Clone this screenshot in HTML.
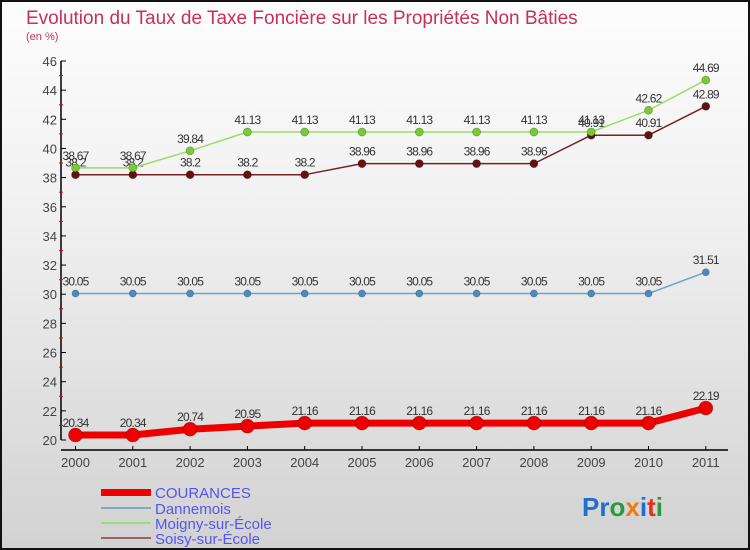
<!DOCTYPE html>
<html><head><meta charset="utf-8"><style>
html,body{margin:0;padding:0}
body{width:750px;height:550px;overflow:hidden}
#c{position:relative;width:746px;height:546px;border:2px solid #111;background:linear-gradient(#fdfdfd,#f0f0f0 40%,#d2d2d2);font-family:"Liberation Sans",sans-serif}
</style></head><body>
<div id="c">
<svg width="746" height="546" viewBox="2 2 746 546" style="position:absolute;left:0;top:0" id="svg">
<text x="26" y="24" font-size="19" fill="#c8305a">Evolution du Taux de Taxe Foncière sur les Propriétés Non Bâties</text>
<text x="26" y="40" font-size="11" fill="#c8305a">(en %)</text>
<g id="axes"></g><g id="series"></g>
<g>
<rect x="101" y="489" width="50" height="7" fill="#e00"/>
<text x="155" y="498" font-size="15" fill="#5555ee">COURANCES</text>
<rect x="101" y="507" width="50" height="2" fill="#7aa8c8"/>
<text x="155" y="514" font-size="15" fill="#5555ee">Dannemois</text>
<rect x="101" y="522" width="50" height="2" fill="#99dd77"/>
<text x="155" y="529" font-size="15" fill="#5555ee">Moigny-sur-École</text>
<rect x="101" y="537" width="50" height="2" fill="#996666"/>
<text x="155" y="544" font-size="15" fill="#5555ee">Soisy-sur-École</text>
</g>
<text x="582" y="516" font-size="26" font-weight="bold"><tspan fill="#1e6fd0">Pr</tspan><tspan fill="#2a9a3a">o</tspan><tspan fill="#f07a10">x</tspan><tspan fill="#1e6fd0">i</tspan><tspan fill="#e03020">t</tspan><tspan fill="#2a9a3a">i</tspan></text>
</svg>
</div>
<script>
const years=["2000","2001","2002","2003","2004","2005","2006","2007","2008","2009","2010","2011"];
const yTicks=[20,22,24,26,28,30,32,34,36,38,40,42,44,46];
const courances=[20.34,20.34,20.74,20.95,21.16,21.16,21.16,21.16,21.16,21.16,21.16,22.19];
const dannemois=[30.05,30.05,30.05,30.05,30.05,30.05,30.05,30.05,30.05,30.05,30.05,31.51];
const moigny=[38.67,38.67,39.84,41.13,41.13,41.13,41.13,41.13,41.13,41.13,42.62,44.69];
const soisy=[38.2,38.2,38.2,38.2,38.2,38.96,38.96,38.96,38.96,40.91,40.91,42.89];
const NS="http://www.w3.org/2000/svg";
const X=i=>75.5+i*57.3;
const Y=v=>440-(v-20)*(379/26);
function mk(t,a,p){const e=document.createElementNS(NS,t);for(const k in a)e.setAttribute(k,a[k]);p.appendChild(e);return e;}
const ax=document.getElementById('axes');
let l=mk('line',{x1:61,y1:61,x2:61,y2:440,stroke:'#000','stroke-width':1.5},ax);


l=mk('line',{x1:61,y1:450,x2:728,y2:450,stroke:'#000','stroke-width':1.5},ax);


yTicks.forEach(v=>{
  mk('line',{x1:61,y1:Y(v),x2:66,y2:Y(v),stroke:'#000'},ax);
  if(v<46)mk('line',{x1:59,y1:Y(v+1),x2:63,y2:Y(v+1),stroke:'#e00'},ax);
  const t=mk('text',{x:57,y:Y(v)+5,'font-size':13,fill:'#444','text-anchor':'end'},ax);
  t.textContent=v;
  
  
});
years.forEach((y,i)=>{
  mk('line',{x1:X(i),y1:446,x2:X(i),y2:450,stroke:'#000'},ax);
  const t=mk('text',{x:X(i),y:467,'font-size':13,fill:'#444','text-anchor':'middle'},ax);
  t.textContent=y;
  
  
});
const sg=document.getElementById('series');
function series(vals,name,col,dot,w,r){
  const g=mk('g',{},sg);
  
  
  const p=mk('polyline',{points:vals.map((v,i)=>X(i)+','+Y(v)).join(' '),fill:'none',stroke:col,'stroke-width':w,'stroke-linejoin':'round'},g);
  
  
  vals.forEach((v,i)=>{
    const c=mk('circle',{cx:X(i),cy:Y(v),r:r,fill:dot,stroke:'rgba(0,0,0,0.3)','stroke-width':0.7},g);
    
    
    const t=mk('text',{x:X(i),y:Y(v)-8,'font-size':12,fill:'#333','text-anchor':'middle','letter-spacing':'-0.8'},g);
    t.textContent=String(v);
    
    
  });
}
series(soisy,'soisy','#772222','#661111',1.5,4);
series(moigny,'moigny','#99dd66','#77cc33',1.5,4);
series(dannemois,'dannemois','#6fa3cc','#4a8cc0',1.5,3.5);
series(courances,'courances','#ee0000','#ee0000',7,7);
</script>
</body></html>
